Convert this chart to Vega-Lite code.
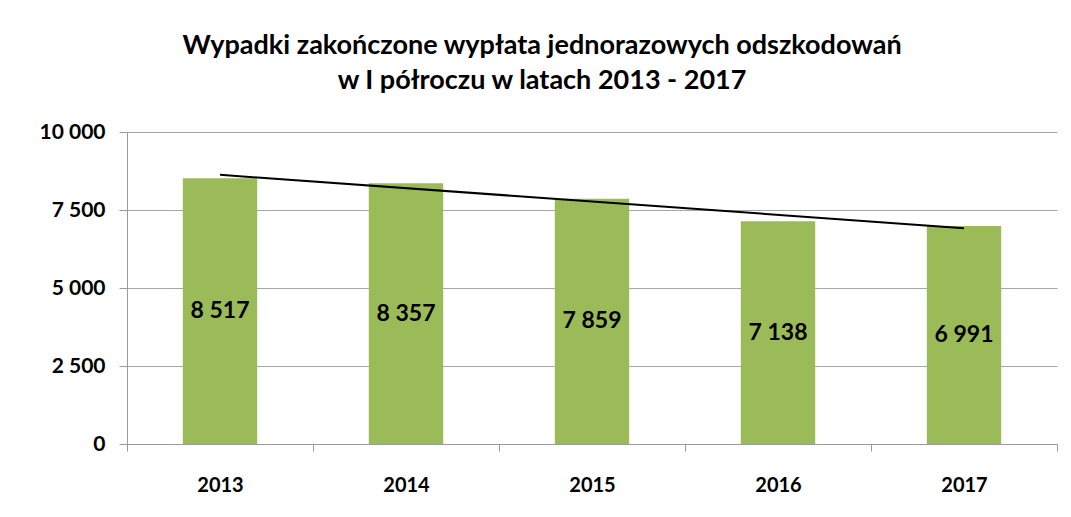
{
  "$schema": "https://vega.github.io/schema/vega-lite/v6.json",
  "width": 930,
  "height": 312,
  "autosize": "none",
  "padding": {"left": 127, "top": 132, "right": 14, "bottom": 73},
  "background": "white",
  "title": {
    "text": ["Wypadki zakończone wypłata jednorazowych odszkodowań", "w I półroczu w latach 2013 - 2017"],
    "font": "Lato",
    "fontSize": 27,
    "fontWeight": "bold",
    "color": "black",
    "lineHeight": 35,
    "offset": 26,
    "dx": -50,
    "anchor": "middle"
  },
  "config": {
    "view": {"stroke": null},
    "font": "Lato"
  },
  "data": {
    "values": [
      {"year": 2013, "value": 8517, "label": "8 517"},
      {"year": 2014, "value": 8357, "label": "8 357"},
      {"year": 2015, "value": 7859, "label": "7 859"},
      {"year": 2016, "value": 7138, "label": "7 138"},
      {"year": 2017, "value": 6991, "label": "6 991"}
    ]
  },
  "layer": [
    {
      "mark": {"type": "bar", "color": "#9BBB59", "width": {"band": 0.4}},
      "encoding": {
        "x": {
          "field": "year",
          "type": "ordinal",
          "scale": {"paddingInner": 0, "paddingOuter": 0},
          "axis": {
            "title": null,
            "labelAngle": 0,
            "labelFont": "Lato",
            "labelFontSize": 20,
            "labelFontWeight": "bold",
            "labelColor": "black",
            "labelPadding": 24,
            "tickBand": "extent",
            "tickSize": 7,
            "tickColor": "#9a9a9a",
            "domainColor": "#9a9a9a",
            "grid": false
          }
        },
        "y": {
          "field": "value",
          "type": "quantitative",
          "scale": {"domain": [0, 10000], "nice": false},
          "axis": {
            "title": null,
            "values": [0, 2500, 5000, 7500, 10000],
            "labelExpr": "replace(format(datum.value, ','), ',', ' ')",
            "labelFont": "Lato",
            "labelFontSize": 21,
            "labelFontWeight": "bold",
            "labelColor": "black",
            "labelPadding": 14,
            "tickSize": 8,
            "tickColor": "#9a9a9a",
            "domainColor": "#9a9a9a",
            "gridColor": "#a6a6a6",
            "gridWidth": 1.2
          }
        }
      }
    },
    {
      "transform": [{"calculate": "datum.value / 2", "as": "mid"}],
      "mark": {"type": "text", "font": "Lato", "fontSize": 23, "fontWeight": "bold", "color": "black", "baseline": "middle"},
      "encoding": {
        "x": {"field": "year", "type": "ordinal"},
        "y": {"field": "mid", "type": "quantitative"},
        "text": {"field": "label"}
      }
    },
    {
      "transform": [{"regression": "value", "on": "year"}],
      "mark": {"type": "line", "color": "black", "strokeWidth": 2},
      "encoding": {
        "x": {"field": "year", "type": "ordinal", "bandPosition": 0.5},
        "y": {"field": "value", "type": "quantitative"}
      }
    }
  ]
}
